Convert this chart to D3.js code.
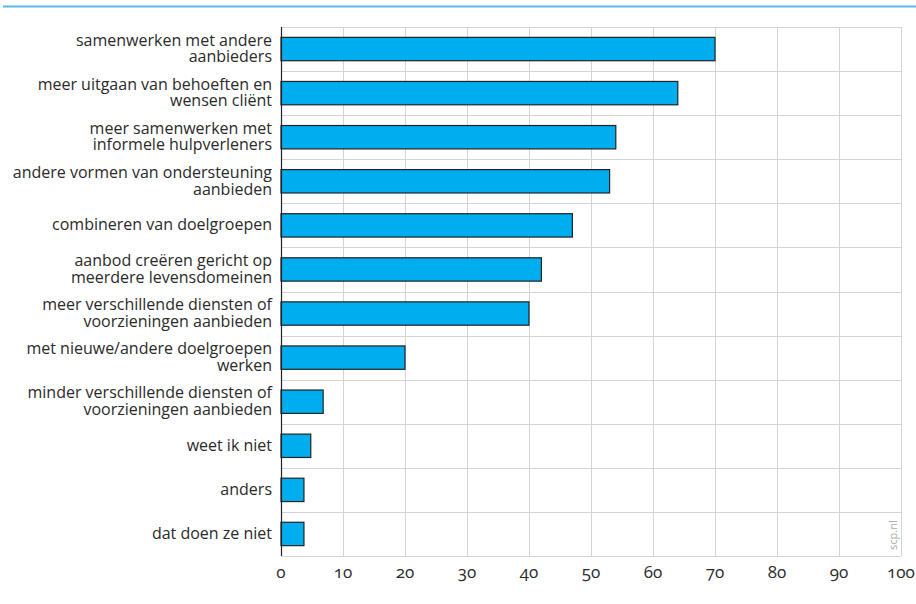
<!DOCTYPE html>
<html><head><meta charset="utf-8">
<script src="https://cdn.jsdelivr.net/npm/d3@7"></script>
<style>
body{margin:0;background:#fff;}
svg{display:block;}
.o{font-variant-numeric:oldstyle-nums;font-feature-settings:"onum" 1;}
</style></head>
<body>
<svg id="c" width="916" height="604"></svg>
<script>
const categories = [
  ["samenwerken met andere","aanbieders"],
  ["meer uitgaan van behoeften en","wensen cliënt"],
  ["meer samenwerken met","informele hulpverleners"],
  ["andere vormen van ondersteuning","aanbieden"],
  ["combineren van doelgroepen"],
  ["aanbod creëren gericht op","meerdere levensdomeinen"],
  ["meer verschillende diensten of","voorzieningen aanbieden"],
  ["met nieuwe/andere doelgroepen","werken"],
  ["minder verschillende diensten of","voorzieningen aanbieden"],
  ["weet ik niet"],
  ["anders"],
  ["dat doen ze niet"]
];
const values = [70, 64, 54, 53, 47, 42, 40, 20, 6.8, 4.8, 3.7, 3.7];
const xTicks = [0,10,20,30,40,50,60,70,80,90,100];
const source = "scp.nl";

const svg = d3.select("#c");
const L = 281, R = 901, T = 27, B = 556;
const keys = categories.map((c,i)=>i);
const x = d3.scaleLinear().domain([0,100]).range([L,R]);
const y = d3.scaleBand().domain(keys).range([T,B]).paddingInner(0.47).paddingOuter(0.235);

// x axis tick labels first (old-style figures)
svg.append("g").selectAll("text").data(xTicks).join("text")
  .attr("class","o")
  .style("font-family","'Open Sans'")
  .attr("x",d=>x(d)).attr("y",B+22)
  .attr("text-anchor","middle").attr("font-size",17).attr("fill","#2a2a2a")
  .text(d=>d3.format("d")(d));

// top rule
svg.append("line").attr("x1",3).attr("x2",916).attr("y1",6.5).attr("y2",6.5)
  .attr("stroke","#5bb7e5").attr("stroke-width",2);

// vertical grid
svg.append("g").selectAll("line").data(xTicks.filter(d=>d>0)).join("line")
  .attr("x1",d=>Math.round(x(d))+0.5).attr("x2",d=>Math.round(x(d))+0.5)
  .attr("y1",T).attr("y2",B).attr("stroke","#d4d4d4").attr("stroke-width",1);
// horizontal grid at band boundaries
const bounds = keys.map(k=>y(k)-y.step()*y.paddingInner()/2).concat([B]);
svg.append("g").selectAll("line").data(bounds).join("line")
  .attr("x1",L).attr("x2",R)
  .attr("y1",d=>Math.round(d)+0.5).attr("y2",d=>Math.round(d)+0.5)
  .attr("stroke","#d4d4d4").attr("stroke-width",1);

// bars
svg.append("g").selectAll("rect").data(values).join("rect")
  .attr("x",x(0)).attr("y",(d,i)=>y(i))
  .attr("width",d=>x(d)-x(0)).attr("height",y.bandwidth())
  .attr("fill","#00adef").attr("stroke","#222").attr("stroke-width",1.2);

// y axis line
svg.append("line").attr("x1",L+0.5).attr("x2",L+0.5).attr("y1",T).attr("y2",B)
  .attr("stroke","#222").attr("stroke-width",1.2);

// category labels
const lh = 16.5;
const lab = svg.append("g");
categories.forEach((lines,i)=>{
  const cy = y(i)+y.bandwidth()/2;
  const t = lab.append("text").attr("class","o").attr("text-anchor","end").attr("font-size",16).attr("fill","#2a2a2a")
    .style("font-family","'Open Sans'");
  lines.forEach((ln,j)=>{
    t.append("tspan").attr("x",272)
      .attr("y",cy + (j-(lines.length-1)/2)*lh + 5).text(ln);
  });
});

// source
svg.append("text").attr("class","o").attr("transform",`translate(${R-4},${B-6}) rotate(-90)`)
  .style("font-family","'Open Sans'")
  .attr("font-size",11).attr("fill","#aaa").text(source);
</script>
</body></html>
